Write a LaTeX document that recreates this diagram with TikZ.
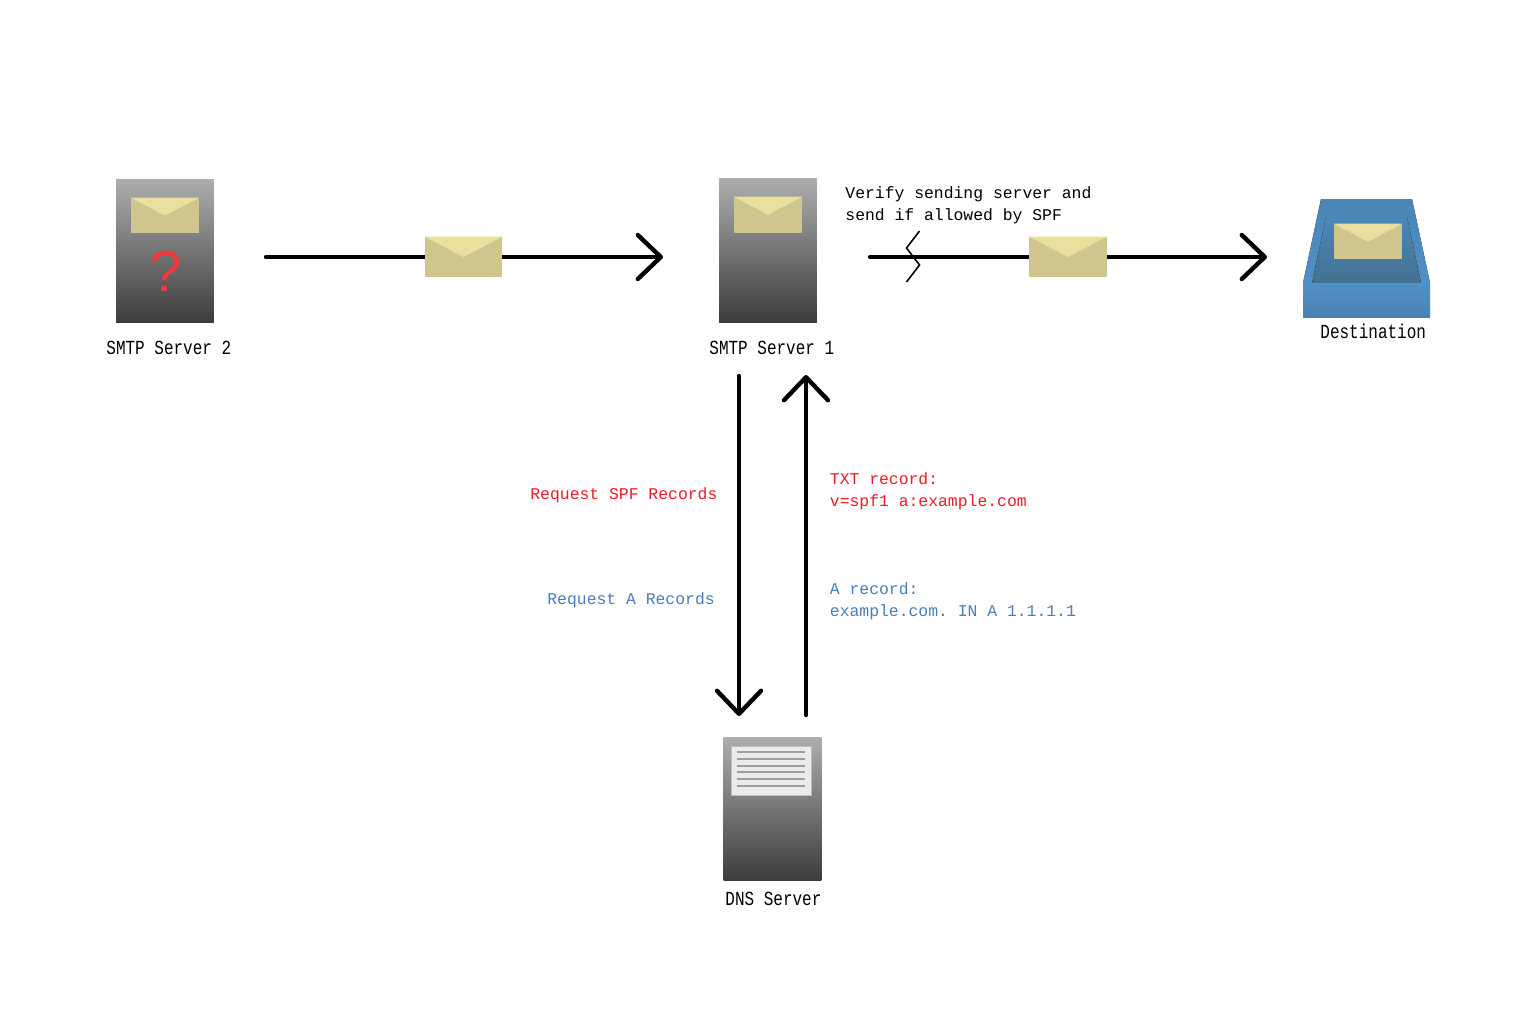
\documentclass[tikz,border=0pt]{standalone}
\usepackage{fontspec}
\usetikzlibrary{arrows.meta}
\setmainfont{Liberation Sans}
\newfontfamily\monofont{Liberation Mono}
\newfontfamily\tallmono[FakeStretch=0.8]{Liberation Mono}
\definecolor{envbase}{HTML}{CFC68F}
\definecolor{envflap}{HTML}{E8E09C}
\definecolor{srvtop}{HTML}{ADADAD}
\definecolor{srvbot}{HTML}{3C3C3C}
\definecolor{redtxt}{HTML}{EE1C25}
\definecolor{bluetxt}{HTML}{4A7EBB}
\definecolor{qmred}{HTML}{EE3A3F}
\definecolor{traytop}{HTML}{4A86B5}
\definecolor{traybot}{HTML}{5090C8}
\definecolor{innertop}{HTML}{4B88B9}
\definecolor{innerbot}{HTML}{43708F}
\definecolor{fronttop}{HTML}{5090C8}
\definecolor{frontbot}{HTML}{4A82AE}
\newcommand{\envelopeat}[4]{%
  \node[envbox,minimum width=#3,minimum height=#4] (#1) at (#2) {};
  \fill[envflap] (#1.north west) -- (#1.north east) -- (#1.center) -- cycle;
}
\begin{document}
\begin{tikzpicture}[x=0.5pt,y=-0.5pt,
  server/.style={rectangle,inner sep=0pt,minimum width=48.8pt,minimum height=71.6pt,top color=srvtop,bottom color=srvbot,draw=none},
  envbox/.style={rectangle,inner sep=0pt,fill=envbase,draw=none},
  flow/.style={line width=2.2pt,line cap=round,line join=round,-{Straight Barb[length=11.5pt,width=22pt,round]}},
  lbl/.style={font=\tallmono\fontsize{10}{12}\selectfont,anchor=base west,inner sep=0pt,text=black},
  txt/.style={font=\monofont\fontsize{8.2}{10.8}\selectfont\frenchspacing,anchor=west,align=left,inner sep=0pt},
]
\path[fill=white,use as bounding box] (0,0) rectangle (1536,1024);

% free ends of connectors
\coordinate (a1s) at (266,257);
\coordinate (a1e) at (663,257);
\coordinate (a2s) at (870,257);
\coordinate (a2e) at (1267,257);
\coordinate (a3s) at (739,376);
\coordinate (a3e) at (739,716);
\coordinate (a4s) at (806,715);
\coordinate (a4e) at (806,375);

% servers
\node[server] (srv2) at (165,251) {};
\node[server] (srv1) at (768,250.5) {};
\node[server] (dns) at (772.5,809) {};

% destination tray
\fill[top color=traytop,bottom color=traybot]
  (1321,199) -- (1412,199) -- (1430,283) -- (1303,283) -- cycle;
\fill[top color=innertop,bottom color=innerbot]
  (1326,217) -- (1407,217) -- (1421,283) -- (1312,283) -- cycle;
\node[rectangle,inner sep=0pt,minimum width=63.5pt,minimum height=17pt,top color=fronttop,bottom color=frontbot] (dest) at (1366.5,300) {};

% connectors
\draw[flow] (a1s) -- (a1e);
\draw[flow] (a2s) -- (a2e);
\draw[flow] (a3s) -- (a3e);
\draw[flow] (a4s) -- (a4e);
\coordinate (b1) at (919.5,231);
\coordinate (b2) at (906.5,248);
\coordinate (b3) at (919.5,265);
\coordinate (b4) at (906.5,282);
\draw[line width=0.8pt,line join=miter] (b1) -- (b2) -- (b3) -- (b4);

% envelopes
\envelopeat{env2}{165,215.5}{34pt}{17.5pt}
\envelopeat{env1}{768,215}{34pt}{18pt}
\envelopeat{envd}{1368,241.5}{34pt}{17.5pt}
\envelopeat{envm}{463.5,257}{38.5pt}{20pt}
\envelopeat{envn}{1068,257}{39pt}{20pt}

% question mark
\node[font=\fontsize{29}{30}\selectfont,text=qmred,inner sep=0pt] (qm) at (166,271) {?};

% DNS sheet
\node[rectangle,inner sep=0pt,minimum width=40pt,minimum height=24.5pt,fill=black!8,draw=black!25,line width=0.4pt] (sheet) at (771.5,770.5) {};
\foreach \yy in {752,759,766,772,779,786}
  \draw[black!38,line width=0.6pt] (737,\yy) -- (805,\yy);

% labels
\node[lbl] (l2) at (106,354) {SMTP Server 2};
\node[lbl] (l1) at (709,354) {SMTP Server 1};
\node[lbl] (ld) at (1320,338) {Destination};
\node[lbl] (ln) at (725,905) {DNS Server};
\node[txt] (tv) at (845,205) {Verify sending server and\\send if allowed by SPF};
\node[txt,text=redtxt] (trs) at (530,495) {Request SPF Records};
\node[txt,text=bluetxt] (tra) at (547,600) {Request A Records};
\node[txt,text=redtxt] (ttx) at (829.5,491.5) {TXT record:\\v=spf1 a:example.com};
\node[txt,text=bluetxt] (tar) at (829.5,601) {A record:\\example.com. IN A 1.1.1.1};
\end{tikzpicture}
\end{document}
